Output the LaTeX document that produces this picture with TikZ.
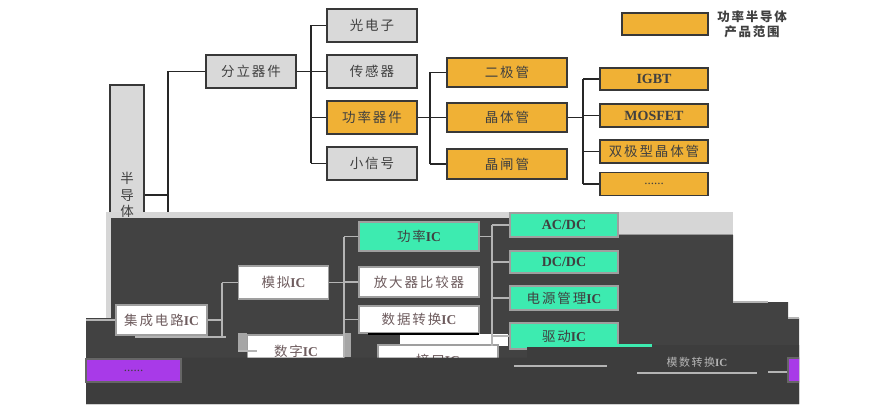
\documentclass[tikz,border=0pt]{standalone}
\usepackage{fontspec}
\setmainfont{Liberation Serif}
\newfontfamily\cjk[LetterSpace=14]{Noto Sans CJK SC}
\newfontfamily\lat{Liberation Serif}
\newcommand\myIC{{\lat\bfseries IC}}
\usetikzlibrary{calc}
\definecolor{boxgray}{HTML}{D9D9D9}
\definecolor{orng}{HTML}{F0B135}
\definecolor{grn}{HTML}{3DEBB0}
\definecolor{purp}{HTML}{A83AE8}
\definecolor{darkbg}{HTML}{424242}
\definecolor{darkbg2}{HTML}{3D3D3D}
\definecolor{band}{HTML}{D6D6D6}
\definecolor{txt}{HTML}{404040}
\definecolor{ptxt}{HTML}{6E5C5E}
\definecolor{lline}{HTML}{B4B4B4}
\tikzset{
  cjkf/.style={font=\fontsize{13.5}{15}\selectfont\cjk},
  latf/.style={font=\fontsize{14}{15}\selectfont\bfseries},
  base/.style={draw=black!78, line width=1.3pt, inner sep=0pt, text=txt, cjkf},
  gbox/.style={base, fill=boxgray, minimum width=90pt, minimum height=33pt},
  obox/.style={base, fill=orng},
  wbox/.style={draw=gray!75, line width=1.3pt, fill=white, inner sep=0pt, text=ptxt, cjkf},
  nbox/.style={draw=gray!75, line width=1.3pt, fill=grn, inner sep=0pt, text=txt, cjkf},
  conn/.style={draw=black!85, line width=1.2pt},
  lconn/.style={draw=lline, line width=1.3pt},
}
\begin{document}
\begin{tikzpicture}[x=1pt,y=-1pt]
\useasboundingbox (0,0) rectangle (888,414);
\fill[white] (0,0) rectangle (888,414);

% ---------- top part ----------
\node[base, fill=boxgray, minimum width=34pt, minimum height=155pt] (bdt) at (127,162.5) {};
\node[gbox] (fenli) at (251,71.5) {分立器件};
\node[gbox] (gdz) at (372,25.5) {光电子};
\node[gbox] (cgq) at (372,71.5) {传感器};
\node[obox, minimum width=90pt, minimum height=33pt] (glqj) at (372,117.5) {功率器件};
\node[gbox] (xxh) at (372,163.5) {小信号};
\node[obox, minimum width=120pt, minimum height=29pt] (ejg) at (507,72.5) {二极管};
\node[obox, minimum width=120pt, minimum height=29pt] (jtg) at (507,117.5) {晶体管};
\node[obox, minimum width=120pt, minimum height=30pt] (jzg) at (507,164) {晶闸管};
\node[obox, minimum width=108pt, minimum height=22pt, latf] (igbt) at (654,79) {IGBT};
\node[obox, minimum width=108pt, minimum height=23pt, latf] (mos) at (654,115.5) {MOSFET};
\node[obox, minimum width=108pt, minimum height=23pt] (sjx) at (654,151.5) {双极型晶体管};
\node[obox, minimum width=108pt, minimum height=23pt, font=\fontsize{13}{13}\selectfont] (odots) at (654,184) {......};
\node[obox, minimum width=86pt, minimum height=22pt] (leg) at (665,24) {};
\node[align=center, text=txt, font=\fontsize{12.5}{15}\selectfont\cjk\bfseries, inner sep=0pt] (legt) at (752,24.5) {功率半导体\\产品范围};

\coordinate (s0) at (168,195);
\coordinate (s1) at (311,71.5);
\coordinate (s2) at (430,117.5);
\coordinate (s3) at (583,117.5);
\draw[conn] (bdt.east |- s0) -- (s0);
\draw[conn] (s0 |- fenli.west) -- (168,240);
\draw[conn] (s0 |- fenli.west) -- (fenli.west);
\draw[conn] (fenli.east) -- (s1);
\draw[conn] (s1 |- gdz.west) -- (s1 |- xxh.west);
\foreach \n in {gdz,cgq,glqj,xxh} \draw[conn] (s1 |- \n.west) -- (\n.west);
\draw[conn] (glqj.east) -- (s2);
\draw[conn] (s2 |- ejg.west) -- (s2 |- jzg.west);
\foreach \n in {ejg,jtg,jzg} \draw[conn] (s2 |- \n.west) -- (\n.west);
\draw[conn] (jtg.east) -- (s3);
\draw[conn] (s3 |- igbt.west) -- (s3 |- odots.west);
\foreach \n in {igbt,mos,sjx,odots} \draw[conn] (s3 |- \n.west) -- (\n.west);

% ---------- light band ----------
\fill[band] (106,212) rectangle (733,218);
\fill[band] (618,212) rectangle (733,235);
\fill[band] (106,212) rectangle (111,318);
\draw[gray!80, line width=1pt] (618,234) -- (733,234);
\node[align=center, text=txt, font=\fontsize{13.5}{16.5}\selectfont\cjk, inner sep=0pt] (bdtl) at (127,195) {半\\导\\体};

% ---------- dark region ----------
\fill[darkbg] (111,218) -- (618,218) -- (618,235) -- (733,235) -- (733,302) -- (788,302)
  -- (788,318) -- (799,318) -- (799,404) -- (86,404) -- (86,318) -- (111,318) -- cycle;

% bottom nodes
\node[wbox, minimum width=91pt, minimum height=30pt] (jc) at (161.5,320) {集成电路\myIC};
\node[wbox, minimum width=90pt, minimum height=33pt] (mn) at (283.5,282.5) {模拟\myIC};
\node[wbox, minimum width=97pt, minimum height=32pt] (sz) at (296,351) {数字\myIC};
\node[nbox, minimum width=120pt, minimum height=29pt] (glic) at (419,236.5) {功率\myIC};
\node[wbox, minimum width=120pt, minimum height=30pt] (fdq) at (419,282) {放大器比较器};
\node[wbox, minimum width=120pt, minimum height=27pt] (sjzh) at (419,319.5) {数据转换\myIC};
\fill[white] (400,334) rectangle (508,346);
\node[wbox, minimum width=120pt, minimum height=30pt] (jk) at (438,360) {接口\myIC};
\draw[black, line width=1.2pt] (368,334) -- (479,334);
\node[nbox, minimum width=108pt, minimum height=24pt, latf] (acdc) at (564,225) {AC/DC};
\node[nbox, minimum width=108pt, minimum height=22pt, latf] (dcdc) at (564,262) {DC/DC};
\node[nbox, minimum width=108pt, minimum height=24pt] (dygl) at (564,298) {电源管理\myIC};
\node[nbox, minimum width=108pt, minimum height=26pt] (qd) at (564,336) {驱动\myIC};

\coordinate (t0) at (86,320);
\coordinate (t1) at (222,320);
\coordinate (t2) at (344,282.5);
\coordinate (t3) at (492,236.5);
\draw[lconn] (t0) -- (jc.west);
\draw[lconn] (jc.east) -- (t1);
\draw[lconn] (t1 |- mn.west) -- (222,337);
\draw[lconn] (t1 |- mn.west) -- (mn.west);
\draw[lconn] (135,337) -- (226,337);
\fill[gray!70] (238,333) rectangle (247,351);
\draw[lconn] (238,351) -- (257,351);
\draw[lconn] (mn.east) -- (t2);
\draw[lconn] (t2 |- glic.west) -- (344,357);
\foreach \n in {glic,fdq,sjzh} \draw[lconn] (t2 |- \n.west) -- (\n.west);
\fill[gray!70] (345,333) rectangle (351,357);
\draw[lconn] (glic.east) -- (t3);
\draw[lconn] (t3 |- acdc.west) -- (492,346);
\foreach \n in {acdc,dcdc,dygl,qd} \draw[lconn] (t3 |- \n.west) -- (\n.west);

% lower darker region
\fill[darkbg2] (86,357.5) -- (527,357.5) -- (527,345) -- (799,345) -- (799,404) -- (86,404) -- cycle;
\fill[grn] (527,344) rectangle (652,347);

% purple boxes
\node[draw=black!60, line width=1.3pt, fill=purp, minimum width=95pt, minimum height=23pt, inner sep=0pt, text=black!75, font=\fontsize{13}{13}\selectfont] (pl) at (133.5,370.5) {......};
\begin{scope}
\clip (780,340) rectangle (799,400);
\node[draw=black!60, line width=1.3pt, fill=purp, minimum width=30pt, minimum height=24pt, inner sep=0pt] (pr) at (803,370) {};
\end{scope}
\coordinate (t4) at (768,372);
\draw[lconn] (t4) -- (pr.west |- t4);

% glitch remnants
\draw[lconn] (514,366) -- (607,366);
\draw[lconn] (637,373) -- (757,373);
\draw[lconn] (733,302) -- (768,302);
\draw[lconn] (788,318) -- (799,318);
\node[text=lline, font=\fontsize{11}{12}\selectfont\cjk, inner sep=0pt] (gt) at (697,362) {模数转换\myIC};
\end{tikzpicture}
\end{document}
